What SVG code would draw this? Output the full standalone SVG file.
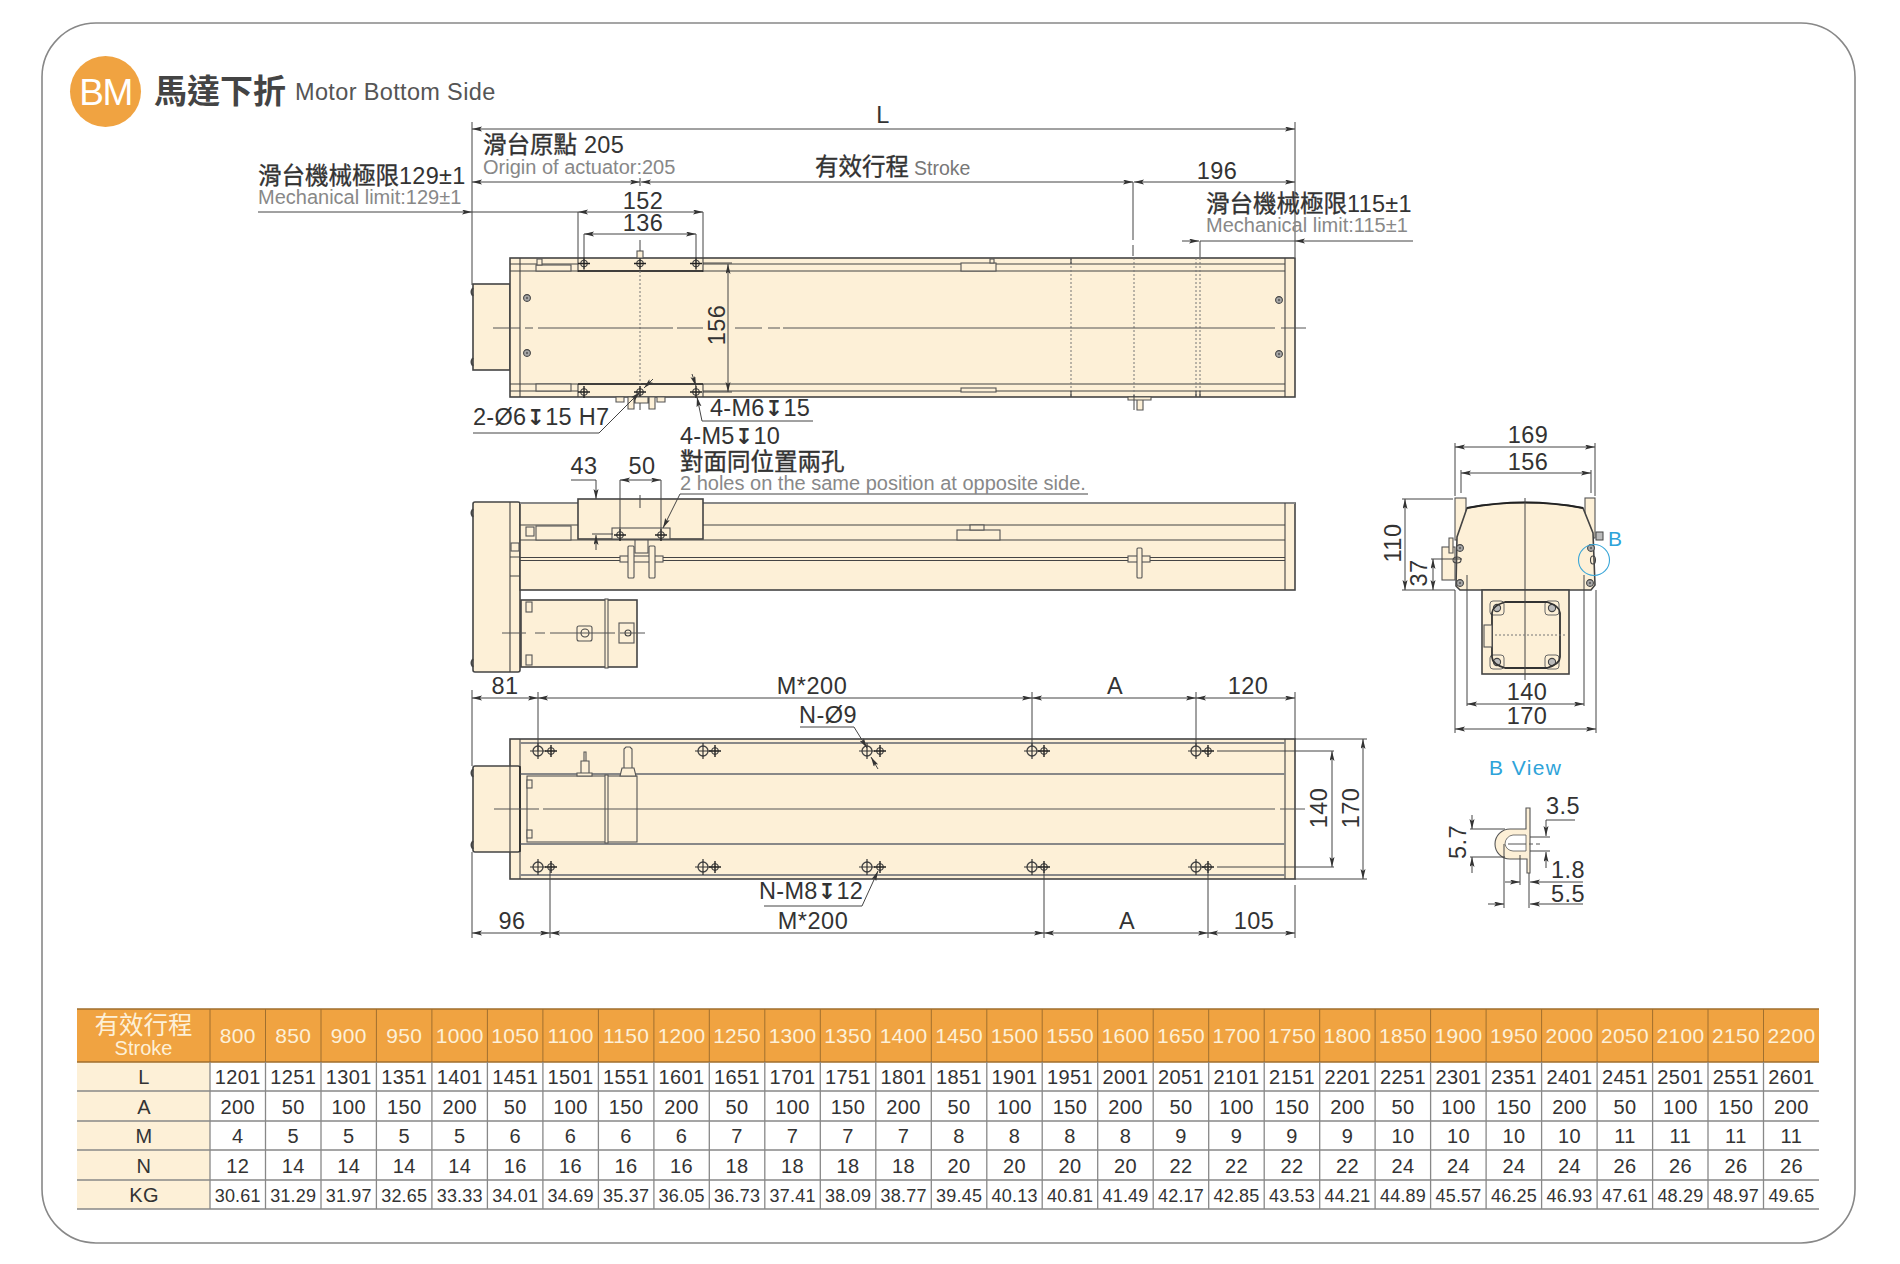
<svg xmlns="http://www.w3.org/2000/svg" width="1900" height="1264" viewBox="0 0 1900 1264">
<defs>
<style>
text{font-family:"Liberation Sans","Noto Sans CJK TC",sans-serif;fill:#333}
.d{font-size:23.5px;letter-spacing:.5px;text-anchor:middle}
.l{font-size:23.5px;letter-spacing:.3px}
.cj{font-size:23.5px;stroke:#333;stroke-width:.35px}
.g{font-size:20px;fill:#888}
.sym{font-family:"DejaVu Sans",sans-serif;font-size:22px;font-weight:bold}
.b{fill:#fdf0d7;stroke:#444;stroke-width:1.6}
.t{fill:#fdf0d7;stroke:#555;stroke-width:1.1}
.n{fill:none;stroke:#444;stroke-width:1.1}
.r{fill:none;stroke:#888;stroke-width:2}
.th{fill:none;stroke:#222;stroke-width:1.4}
.c{fill:none;stroke:#444;stroke-width:1}
.cl{fill:none;stroke:#555;stroke-width:1}
.dot{fill:none;stroke:#777;stroke-width:1;stroke-dasharray:2 2}
.a{marker-end:url(#ar);fill:none;stroke:#444;stroke-width:1}
.aa{marker-start:url(#ar);marker-end:url(#ar);fill:none;stroke:#444;stroke-width:1}
.blue{fill:#2ea3d9}
.hd{font-size:21px;fill:#fdf0d7;text-anchor:middle;letter-spacing:.3px}
.ce{font-size:20px;text-anchor:middle;letter-spacing:.4px}
.kg{font-size:18px;text-anchor:middle;letter-spacing:.2px}
</style>
<marker id="ar" markerUnits="userSpaceOnUse" markerWidth="11" markerHeight="6" refX="10" refY="2.5" orient="auto-start-reverse"><path d="M0 0L10 2.5L0 5L2 2.5z" fill="#333"/></marker>
<g id="hL"><circle r="5" fill="none" stroke="#444" stroke-width="1.3"/><path d="M-8 0H8M0-8V8" stroke="#333" stroke-width="1.2"/></g>
<g id="hS"><circle r="3.2" fill="none" stroke="#444" stroke-width="1.1"/><path d="M-6 0H6M0-6V6" stroke="#222" stroke-width="1.4"/></g>
<g id="sc"><circle r="3.4" fill="#aaa" stroke="#444" stroke-width="1.1"/><circle r="1.2" fill="#666"/></g>
<g id="co"><rect x="-7" y="-7" width="14" height="14" rx="3" fill="#fdf0d7" stroke="#666" stroke-width="1"/><circle r="3.6" fill="#bbb" stroke="#444" stroke-width="1.1"/></g>
</defs>
<rect x="42" y="23" width="1813" height="1220" rx="54" fill="#fff" stroke="#888" stroke-width="1.6"/>

<g id="title">
<circle cx="105.5" cy="91.5" r="35.5" fill="#f0a341"/>
<text x="105.5" y="105" font-size="37" text-anchor="middle" style="fill:#fff;letter-spacing:-1.5px">BM</text>
<text x="154" y="103" font-size="33" font-weight="bold" style="fill:#444">馬達下折</text>
<text x="295" y="100" font-size="23.5" style="fill:#555;letter-spacing:.35px">Motor Bottom Side</text>
</g>

<g id="top-view">
<rect class="b" x="473" y="284" width="37" height="86"/>
<path class="c" d="M473 288q-3 4 0 8M473 358q-3 4 0 8" style="stroke-width:2"/>
<rect class="b" x="510" y="258" width="785" height="139"/>
<path class="n" d="M520 258V397M510 271H1285M510 384H1285M703 264H1285M703 391H1285M1285 258V397M578 258V272M703 258V272M578 384V397M703 384V397"/>
<path class="n" d="M578 264H510M578 391H510"/>
<path class="th" d="M578 271H703M578 384H703"/>
<rect class="t" x="536" y="265" width="35" height="6"/><rect class="t" x="537" y="259" width="5" height="6"/>
<rect class="t" x="536" y="384" width="35" height="7"/>
<rect class="t" x="961" y="263" width="35" height="8"/><rect class="t" x="990" y="259" width="4" height="4"/>
<rect class="t" x="961" y="388" width="35" height="4"/>
<path class="dot" d="M640 271V384M1071 258V397M1134 258V397M1196 258V397M1200 258V397"/>
<path class="n" d="M1071 258V264M1071 391V397M1196 391V397M1200 391V397"/>
<use href="#hS" x="584" y="263.5"/><use href="#hS" x="640" y="263.5"/><use href="#hS" x="696" y="263.5"/>
<use href="#hS" x="584" y="392"/><use href="#hS" x="640" y="392"/><use href="#hS" x="696" y="392"/>
<use href="#sc" x="527" y="298"/><use href="#sc" x="527" y="353"/><use href="#sc" x="1279" y="300"/><use href="#sc" x="1279" y="354"/>
<rect class="t" x="637" y="251" width="6" height="7"/>
<path class="t" d="M616 397h8v5h-8zM657 397h8v5h-8zM635 397h13v6h-13zM628 397h6v12h-6zM649 397h6v12h-6z"/>
<path class="t" d="M1128 397h23v3h-23zM1137 400h6v10h-6z"/>
<path class="cl" d="M493 328H520M525 328H533M538 328H673M677 328H703M735 328H762M768 328H780M783 328H1275M1281 328H1306"/>
<path class="c" d="M640 240V251M640 403V410M1134 395V410"/>
<text class="d" transform="translate(725 325) rotate(-90)">156</text>
</g>

<g id="side-view">
<rect class="b" x="473" y="502" width="47" height="170" rx="2"/>
<path class="c" d="M473 509q-3 4 0 8M473 659q-3 4 0 8" style="stroke-width:2"/>
<rect class="b" x="520" y="503" width="775" height="87"/>
<path class="r" d="M520 503H1295"/>
<path class="n" d="M510 502V672M1285 503V590M520 525H1285M520 540H1285M520 557.5H1285M520 560.5H1285M510 557H520M510 576H520"/>
<rect class="b" x="578" y="499" width="125" height="40"/>
<rect class="t" x="612" y="528" width="58" height="11"/>
<rect class="t" x="536" y="526" width="35" height="14"/>
<rect class="t" x="526" y="527" width="8" height="9"/>
<rect class="t" x="635" y="540" width="13" height="13"/>
<rect class="t" x="620" y="556" width="43" height="6"/>
<rect class="t" x="628" y="546" width="6" height="32" rx="1"/><rect class="t" x="649" y="546" width="6" height="32" rx="1"/>
<rect class="t" x="957" y="530" width="43" height="10"/><rect class="t" x="970" y="525" width="14" height="5"/>
<rect class="t" x="1128" y="556" width="22" height="6"/><rect class="t" x="1137" y="548" width="5" height="30" rx="1"/>
<rect class="b" x="521" y="600" width="116" height="67"/>
<rect class="t" x="605" y="599" width="3" height="69"/>
<rect class="t" x="526" y="602" width="6" height="10"/><rect class="t" x="526" y="655" width="6" height="10"/>
<rect class="t" x="511" y="543" width="8" height="8"/>
<rect class="t" x="577" y="626" width="15" height="15" rx="2"/><circle class="n" cx="585" cy="633" r="4"/>
<rect class="t" x="619" y="623" width="15" height="20"/><circle class="n" cx="628" cy="633" r="3"/>
<path class="cl" d="M502 633H526M535 633H545M550 633H615M620 633H645"/>
<use href="#hS" x="620" y="535"/><use href="#hS" x="661" y="535"/>
</g>

<g id="bottom-view">
<rect class="b" x="510" y="739" width="785" height="140"/>
<rect class="b" x="473" y="766" width="47" height="86" rx="2"/>
<path class="c" d="M473 769q-3 4 0 8M473 841q-3 4 0 8" style="stroke-width:2"/>
<path class="n" d="M520 739V766M520 852V879M1285 739V879M510 766V852"/>
<path class="r" d="M520 743H1285M520 875H1285M520 774H1285M520 844H1285"/>
<path class="th" d="M520 766V852"/>
<rect class="t" x="527" y="776" width="110" height="66"/>
<rect class="t" x="605" y="775" width="3" height="68"/>
<rect class="t" x="527" y="780" width="5" height="8"/><rect class="t" x="527" y="830" width="5" height="8"/>
<path class="t" d="M577 776v-3h15v3zM581 773v-12h8v12zM584 761v-9h2v9z"/>
<path class="t" d="M620 776l2-8h12l2 8zM624 768v-19l2-2h4l2 2v19z"/>
<path class="cl" d="M494 809H539M543 809H1275M1280 809H1305"/>
<use href="#hL" x="538" y="751"/><use href="#hS" x="551" y="751"/><use href="#hL" x="703" y="751"/><use href="#hS" x="715" y="751"/><use href="#hL" x="867" y="751"/><use href="#hS" x="880" y="751"/><use href="#hL" x="1032" y="751"/><use href="#hS" x="1044" y="751"/><use href="#hL" x="1196" y="751"/><use href="#hS" x="1208" y="751"/>
<use href="#hL" x="538" y="867"/><use href="#hS" x="551" y="867"/><use href="#hL" x="703" y="867"/><use href="#hS" x="715" y="867"/><use href="#hL" x="867" y="867"/><use href="#hS" x="880" y="867"/><use href="#hL" x="1032" y="867"/><use href="#hS" x="1044" y="867"/><use href="#hL" x="1196" y="867"/><use href="#hS" x="1208" y="867"/>
</g>

<g id="end-view">
<rect class="t" x="1455" y="498" width="11" height="42"/>
<rect class="t" x="1585" y="498" width="10" height="40"/>
<rect x="1596" y="532" width="7" height="8" fill="#bbb" stroke="#444"/>
<rect class="t" x="1442" y="547" width="13" height="33"/>
<path class="t" d="M1449 538h4v15h-4z"/>
<path class="b" d="M1467 508Q1525 497 1583 508L1593 533L1595 585L1591 590H1460L1456 586L1457 537Z"/>
<path class="th" d="M1467 508Q1525 497 1583 508" style="stroke-width:2"/>
<rect class="b" x="1482" y="590" width="87" height="84"/>
<use href="#co" x="1497" y="608"/><use href="#co" x="1552" y="608"/><use href="#co" x="1497" y="662"/><use href="#co" x="1552" y="662"/>
<path d="M1492 613Q1492 606 1505 602H1547Q1560 606 1560 613V657Q1560 664 1547 668H1505Q1492 664 1492 657Z" fill="none" stroke="#333" stroke-width="1.8"/>
<rect class="t" x="1484" y="625" width="8" height="22"/>
<use href="#sc" x="1460" y="548"/><use href="#sc" x="1460" y="583"/><use href="#sc" x="1591" y="548"/><use href="#sc" x="1590" y="583"/>
<ellipse class="n" cx="1457" cy="560" rx="4" ry="3"/><ellipse class="n" cx="1593" cy="560" rx="2.5" ry="4"/>
<path class="c" d="M1525 498V680"/>
<path class="dot" d="M1495 635H1565"/>
<circle cx="1594" cy="560" r="15.5" fill="none" stroke="#3aa6d8" stroke-width="1.1"/>
<text class="blue" x="1608" y="546" font-size="21">B</text>
</g>

<g id="b-view">
<text class="blue" x="1489" y="775" font-size="21" style="letter-spacing:1.4px">B View</text>
<path class="t" d="M1526 808h4v65h-3v-14h-17a15 15 0 0 1 0-30h16z"/>
<path d="M1505 844a9 9 0 0 1 8-9h13v16h-13a9 9 0 0 1-8-7z" fill="#fff" stroke="#555" stroke-width=".8"/>
<path class="cl" d="M1508 844H1526M1529 844H1533M1536 844H1540"/>
</g>

<g id="connectors">
<path class="c" d="M472 122V285M1295 122V257M578 212V258M703 212V258M584 234V263M696 234V263M1133 182V240M1133 245V256M1200 241V257"/>
<path class="aa" d="M472 129H1295"/>
<path class="aa" d="M472 182H640"/>
<path class="c" d="M640 178V186"/>
<path class="aa" d="M641 182H1133"/>
<path class="aa" d="M1134 182H1295"/>
<path class="a" d="M258 212H472"/>
<path class="c" d="M472 212H578"/>
<path class="aa" d="M578 212H703"/>
<path class="aa" d="M584 234H696"/>
<path class="a" d="M1182 241H1199"/>
<path class="c" d="M1200 241H1295"/>
<path class="a" d="M1413 241H1295"/>
<path class="c" d="M703 263H732M703 392H732"/>
<path class="aa" d="M728 264V392"/>
<path class="a" d="M473 433H599L640 392"/>
<path class="a" d="M653 379L644 388"/>
<path class="a" d="M813 421H702L697 397"/>
<path class="a" d="M692 374L696 386"/>
<path class="a" d="M1088 494H680L663 528"/>
<path class="a" d="M571 480H596V499"/>
<path class="a" d="M596 550V535"/>
<path class="c" d="M592 534H613M620 480V534M661 480V534M640 495V508"/>
<path class="aa" d="M620 480H661"/>
<path class="c" d="M472 690V766M538 692V751M1032 692V746M1196 692V746M1295 692V739M472 852V938M550 867V938M1044 867V938M1208 867V938M1295 885V938"/>
<path class="aa" d="M472 698H538"/><path class="aa" d="M538 698H1032"/><path class="aa" d="M1032 698H1196"/><path class="aa" d="M1196 698H1295"/>
<path class="aa" d="M472 933H550"/><path class="aa" d="M550 933H1044"/><path class="aa" d="M1044 933H1208"/><path class="aa" d="M1208 933H1295"/>
<path class="a" d="M800 727H854L867 748"/>
<path class="a" d="M878 769L871 757"/>
<path class="a" d="M764 906H862L878 871"/>
<path class="c" d="M1217 751H1334M1217 867H1334M1295 739H1367M1295 879H1367"/>
<path class="aa" d="M1332 751V867"/>
<path class="aa" d="M1363 739V879"/>
<path class="c" d="M1455 443V496M1595 443V496M1461 470V493M1591 470V493M1467 575V706M1584 575V706M1455 590V733M1596 590V733"/>
<path class="aa" d="M1455 447H1595"/><path class="aa" d="M1461 473H1591"/>
<path class="aa" d="M1467 704H1584"/><path class="aa" d="M1455 729H1596"/>
<path class="c" d="M1402 499H1453M1402 590H1455M1431 559H1462"/>
<path class="aa" d="M1405 499V590"/>
<path class="aa" d="M1433 559V590"/>
<path class="c" d="M1470 829H1505M1470 857H1505M1530 837H1550M1530 851H1550M1504 844V908M1520 855V885M1529 873V908"/>
<path class="a" d="M1472 815V829"/><path class="a" d="M1472 873V857"/>
<path class="a" d="M1575 820H1546V836"/><path class="a" d="M1546 868V852"/>
<path class="a" d="M1488 904H1504"/><path class="a" d="M1583 904H1530"/>
<path class="a" d="M1505 882H1520"/><path class="a" d="M1583 882H1530"/>
</g>

<g id="labels">
<text class="d" x="883" y="123">L</text>
<text x="483" y="153"><tspan class="cj">滑台原點</tspan><tspan class="l" dx="7">205</tspan></text>
<text class="g" x="483" y="174">Origin of actuator:205</text>
<text x="258" y="184"><tspan class="cj">滑台機械極限</tspan><tspan class="l">129±1</tspan></text>
<text class="g" x="258" y="204">Mechanical limit:129±1</text>
<text x="815" y="175"><tspan class="cj">有效行程</tspan><tspan dx="5" style="font-size:19.5px;fill:#777">Stroke</tspan></text>
<text class="d" x="1217" y="179">196</text>
<text x="1206" y="212"><tspan class="cj">滑台機械極限</tspan><tspan class="l">115±1</tspan></text>
<text class="g" x="1206" y="232">Mechanical limit:115±1</text>
<text class="d" x="643" y="209">152</text>
<text class="d" x="643" y="231">136</text>
<text class="l" x="473" y="425">2-Ø6<tspan class="sym">↧</tspan>15 H7</text>
<text class="l" x="710" y="416">4-M6<tspan class="sym">↧</tspan>15</text>
<text class="l" x="680" y="444">4-M5<tspan class="sym">↧</tspan>10</text>
<text class="cj" x="680" y="470">對面同位置兩孔</text>
<text class="g" x="680" y="490">2 holes on the same position at opposite side.</text>
<text class="d" x="584" y="474">43</text>
<text class="d" x="642" y="474">50</text>
<text class="d" x="505" y="694">81</text>
<text class="d" x="812" y="694">M*200</text>
<text class="d" x="1115" y="694">A</text>
<text class="d" x="1248" y="694">120</text>
<text class="d" x="828" y="723">N-Ø9</text>
<text class="l" x="759" y="899">N-M8<tspan class="sym">↧</tspan>12</text>
<text class="d" x="512" y="929">96</text>
<text class="d" x="813" y="929">M*200</text>
<text class="d" x="1127" y="929">A</text>
<text class="d" x="1254" y="929">105</text>
<text class="d" transform="translate(1327 808) rotate(-90)">140</text>
<text class="d" transform="translate(1359 808) rotate(-90)">170</text>
<text class="d" x="1528" y="443">169</text>
<text class="d" x="1528" y="470">156</text>
<text class="d" x="1527" y="700">140</text>
<text class="d" x="1527" y="724">170</text>
<text class="d" transform="translate(1401 543) rotate(-90)">110</text>
<text class="d" transform="translate(1427 573) rotate(-90)">37</text>
<text class="d" transform="translate(1466 842) rotate(-90)">5.7</text>
<text class="d" x="1563" y="814">3.5</text>
<text class="d" x="1568" y="878">1.8</text>
<text class="d" x="1568" y="902">5.5</text>
</g>

<g id="table">
<rect x="77" y="1009" width="1742" height="53" fill="#f0a341"/>
<rect x="77" y="1062" width="133" height="147" fill="#fdf0d7"/>
<path d="M77 1009H1819M77 1062H1819" stroke="#a06f2e" stroke-width="1.4" fill="none"/>
<path d="M210 1009V1062M265.5 1009V1062M321 1009V1062M376.4 1009V1062M431.9 1009V1062M487.4 1009V1062M542.9 1009V1062M598.4 1009V1062M653.9 1009V1062M709.3 1009V1062M764.8 1009V1062M820.3 1009V1062M875.8 1009V1062M931.3 1009V1062M986.8 1009V1062M1042.2 1009V1062M1097.7 1009V1062M1153.2 1009V1062M1208.7 1009V1062M1264.2 1009V1062M1319.7 1009V1062M1375.1 1009V1062M1430.6 1009V1062M1486.1 1009V1062M1541.6 1009V1062M1597.1 1009V1062M1652.6 1009V1062M1708 1009V1062M1763.5 1009V1062" stroke="#a06f2e" stroke-width="1" fill="none"/>
<path d="M77 1091H1819M77 1121H1819M77 1150H1819M77 1180H1819M77 1209H1819M210 1062V1209M265.5 1062V1209M321 1062V1209M376.4 1062V1209M431.9 1062V1209M487.4 1062V1209M542.9 1062V1209M598.4 1062V1209M653.9 1062V1209M709.3 1062V1209M764.8 1062V1209M820.3 1062V1209M875.8 1062V1209M931.3 1062V1209M986.8 1062V1209M1042.2 1062V1209M1097.7 1062V1209M1153.2 1062V1209M1208.7 1062V1209M1264.2 1062V1209M1319.7 1062V1209M1375.1 1062V1209M1430.6 1062V1209M1486.1 1062V1209M1541.6 1062V1209M1597.1 1062V1209M1652.6 1062V1209M1708 1062V1209M1763.5 1062V1209" stroke="#888" stroke-width="1.3" fill="none"/>
<text x="143.5" y="1034" text-anchor="middle" font-size="24.5" style="fill:#fdf0d7">有效行程</text>
<text x="143.5" y="1055" text-anchor="middle" font-size="20" style="fill:#fdf0d7">Stroke</text>
<g>
<text class="hd" x="237.7" y="1043">800</text><text class="hd" x="293.2" y="1043">850</text><text class="hd" x="348.7" y="1043">900</text><text class="hd" x="404.2" y="1043">950</text><text class="hd" x="459.7" y="1043">1000</text><text class="hd" x="515.2" y="1043">1050</text><text class="hd" x="570.6" y="1043">1100</text><text class="hd" x="626.1" y="1043">1150</text><text class="hd" x="681.6" y="1043">1200</text><text class="hd" x="737.1" y="1043">1250</text><text class="hd" x="792.6" y="1043">1300</text><text class="hd" x="848.1" y="1043">1350</text><text class="hd" x="903.6" y="1043">1400</text><text class="hd" x="959.1" y="1043">1450</text><text class="hd" x="1014.6" y="1043">1500</text><text class="hd" x="1070.1" y="1043">1550</text><text class="hd" x="1125.5" y="1043">1600</text><text class="hd" x="1181" y="1043">1650</text><text class="hd" x="1236.5" y="1043">1700</text><text class="hd" x="1292" y="1043">1750</text><text class="hd" x="1347.5" y="1043">1800</text><text class="hd" x="1403" y="1043">1850</text><text class="hd" x="1458.5" y="1043">1900</text><text class="hd" x="1514" y="1043">1950</text><text class="hd" x="1569.5" y="1043">2000</text><text class="hd" x="1625" y="1043">2050</text><text class="hd" x="1680.4" y="1043">2100</text><text class="hd" x="1735.9" y="1043">2150</text><text class="hd" x="1791.4" y="1043">2200</text>
</g>
<g>
<text class="ce" x="144" y="1084">L</text><text class="ce" x="237.7" y="1084">1201</text><text class="ce" x="293.2" y="1084">1251</text><text class="ce" x="348.7" y="1084">1301</text><text class="ce" x="404.2" y="1084">1351</text><text class="ce" x="459.7" y="1084">1401</text><text class="ce" x="515.2" y="1084">1451</text><text class="ce" x="570.6" y="1084">1501</text><text class="ce" x="626.1" y="1084">1551</text><text class="ce" x="681.6" y="1084">1601</text><text class="ce" x="737.1" y="1084">1651</text><text class="ce" x="792.6" y="1084">1701</text><text class="ce" x="848.1" y="1084">1751</text><text class="ce" x="903.6" y="1084">1801</text><text class="ce" x="959.1" y="1084">1851</text><text class="ce" x="1014.6" y="1084">1901</text><text class="ce" x="1070.1" y="1084">1951</text><text class="ce" x="1125.5" y="1084">2001</text><text class="ce" x="1181" y="1084">2051</text><text class="ce" x="1236.5" y="1084">2101</text><text class="ce" x="1292" y="1084">2151</text><text class="ce" x="1347.5" y="1084">2201</text><text class="ce" x="1403" y="1084">2251</text><text class="ce" x="1458.5" y="1084">2301</text><text class="ce" x="1514" y="1084">2351</text><text class="ce" x="1569.5" y="1084">2401</text><text class="ce" x="1625" y="1084">2451</text><text class="ce" x="1680.4" y="1084">2501</text><text class="ce" x="1735.9" y="1084">2551</text><text class="ce" x="1791.4" y="1084">2601</text>
</g>
<g>
<text class="ce" x="144" y="1114">A</text><text class="ce" x="237.7" y="1114">200</text><text class="ce" x="293.2" y="1114">50</text><text class="ce" x="348.7" y="1114">100</text><text class="ce" x="404.2" y="1114">150</text><text class="ce" x="459.7" y="1114">200</text><text class="ce" x="515.2" y="1114">50</text><text class="ce" x="570.6" y="1114">100</text><text class="ce" x="626.1" y="1114">150</text><text class="ce" x="681.6" y="1114">200</text><text class="ce" x="737.1" y="1114">50</text><text class="ce" x="792.6" y="1114">100</text><text class="ce" x="848.1" y="1114">150</text><text class="ce" x="903.6" y="1114">200</text><text class="ce" x="959.1" y="1114">50</text><text class="ce" x="1014.6" y="1114">100</text><text class="ce" x="1070.1" y="1114">150</text><text class="ce" x="1125.5" y="1114">200</text><text class="ce" x="1181" y="1114">50</text><text class="ce" x="1236.5" y="1114">100</text><text class="ce" x="1292" y="1114">150</text><text class="ce" x="1347.5" y="1114">200</text><text class="ce" x="1403" y="1114">50</text><text class="ce" x="1458.5" y="1114">100</text><text class="ce" x="1514" y="1114">150</text><text class="ce" x="1569.5" y="1114">200</text><text class="ce" x="1625" y="1114">50</text><text class="ce" x="1680.4" y="1114">100</text><text class="ce" x="1735.9" y="1114">150</text><text class="ce" x="1791.4" y="1114">200</text>
</g>
<g>
<text class="ce" x="144" y="1143">M</text><text class="ce" x="237.7" y="1143">4</text><text class="ce" x="293.2" y="1143">5</text><text class="ce" x="348.7" y="1143">5</text><text class="ce" x="404.2" y="1143">5</text><text class="ce" x="459.7" y="1143">5</text><text class="ce" x="515.2" y="1143">6</text><text class="ce" x="570.6" y="1143">6</text><text class="ce" x="626.1" y="1143">6</text><text class="ce" x="681.6" y="1143">6</text><text class="ce" x="737.1" y="1143">7</text><text class="ce" x="792.6" y="1143">7</text><text class="ce" x="848.1" y="1143">7</text><text class="ce" x="903.6" y="1143">7</text><text class="ce" x="959.1" y="1143">8</text><text class="ce" x="1014.6" y="1143">8</text><text class="ce" x="1070.1" y="1143">8</text><text class="ce" x="1125.5" y="1143">8</text><text class="ce" x="1181" y="1143">9</text><text class="ce" x="1236.5" y="1143">9</text><text class="ce" x="1292" y="1143">9</text><text class="ce" x="1347.5" y="1143">9</text><text class="ce" x="1403" y="1143">10</text><text class="ce" x="1458.5" y="1143">10</text><text class="ce" x="1514" y="1143">10</text><text class="ce" x="1569.5" y="1143">10</text><text class="ce" x="1625" y="1143">11</text><text class="ce" x="1680.4" y="1143">11</text><text class="ce" x="1735.9" y="1143">11</text><text class="ce" x="1791.4" y="1143">11</text>
</g>
<g>
<text class="ce" x="144" y="1173">N</text><text class="ce" x="237.7" y="1173">12</text><text class="ce" x="293.2" y="1173">14</text><text class="ce" x="348.7" y="1173">14</text><text class="ce" x="404.2" y="1173">14</text><text class="ce" x="459.7" y="1173">14</text><text class="ce" x="515.2" y="1173">16</text><text class="ce" x="570.6" y="1173">16</text><text class="ce" x="626.1" y="1173">16</text><text class="ce" x="681.6" y="1173">16</text><text class="ce" x="737.1" y="1173">18</text><text class="ce" x="792.6" y="1173">18</text><text class="ce" x="848.1" y="1173">18</text><text class="ce" x="903.6" y="1173">18</text><text class="ce" x="959.1" y="1173">20</text><text class="ce" x="1014.6" y="1173">20</text><text class="ce" x="1070.1" y="1173">20</text><text class="ce" x="1125.5" y="1173">20</text><text class="ce" x="1181" y="1173">22</text><text class="ce" x="1236.5" y="1173">22</text><text class="ce" x="1292" y="1173">22</text><text class="ce" x="1347.5" y="1173">22</text><text class="ce" x="1403" y="1173">24</text><text class="ce" x="1458.5" y="1173">24</text><text class="ce" x="1514" y="1173">24</text><text class="ce" x="1569.5" y="1173">24</text><text class="ce" x="1625" y="1173">26</text><text class="ce" x="1680.4" y="1173">26</text><text class="ce" x="1735.9" y="1173">26</text><text class="ce" x="1791.4" y="1173">26</text>
</g>
<g>
<text class="ce" x="144" y="1202">KG</text><text class="kg" x="237.7" y="1202">30.61</text><text class="kg" x="293.2" y="1202">31.29</text><text class="kg" x="348.7" y="1202">31.97</text><text class="kg" x="404.2" y="1202">32.65</text><text class="kg" x="459.7" y="1202">33.33</text><text class="kg" x="515.2" y="1202">34.01</text><text class="kg" x="570.6" y="1202">34.69</text><text class="kg" x="626.1" y="1202">35.37</text><text class="kg" x="681.6" y="1202">36.05</text><text class="kg" x="737.1" y="1202">36.73</text><text class="kg" x="792.6" y="1202">37.41</text><text class="kg" x="848.1" y="1202">38.09</text><text class="kg" x="903.6" y="1202">38.77</text><text class="kg" x="959.1" y="1202">39.45</text><text class="kg" x="1014.6" y="1202">40.13</text><text class="kg" x="1070.1" y="1202">40.81</text><text class="kg" x="1125.5" y="1202">41.49</text><text class="kg" x="1181" y="1202">42.17</text><text class="kg" x="1236.5" y="1202">42.85</text><text class="kg" x="1292" y="1202">43.53</text><text class="kg" x="1347.5" y="1202">44.21</text><text class="kg" x="1403" y="1202">44.89</text><text class="kg" x="1458.5" y="1202">45.57</text><text class="kg" x="1514" y="1202">46.25</text><text class="kg" x="1569.5" y="1202">46.93</text><text class="kg" x="1625" y="1202">47.61</text><text class="kg" x="1680.4" y="1202">48.29</text><text class="kg" x="1735.9" y="1202">48.97</text><text class="kg" x="1791.4" y="1202">49.65</text>
</g>
</g>
</svg>
